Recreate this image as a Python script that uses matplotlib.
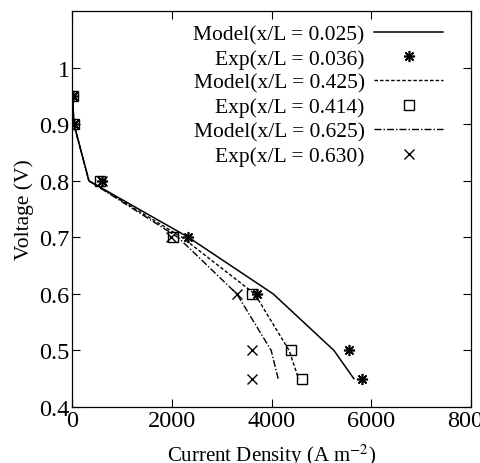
import numpy as np
import matplotlib.pyplot as plt

plt.rcParams['font.family'] = ['Liberation Serif', 'DejaVu Serif']
plt.rcParams['mathtext.fontset'] = 'stix'

# Model curves (current density in A m^-2, voltage in V)
model_025_x = [0, 30, 330, 2330, 4030, 5250, 5650]
model_025_v = [0.95, 0.9, 0.8, 0.7, 0.6, 0.5, 0.45]
model_425_x = [0, 30, 330, 2200, 3660, 4350, 4540]
model_425_v = [0.95, 0.9, 0.8, 0.7, 0.6, 0.5, 0.45]
model_625_x = [0, 30, 330, 2120, 3300, 3990, 4130]
model_625_v = [0.95, 0.9, 0.8, 0.7, 0.6, 0.5, 0.45]

# Experimental points
exp_036_x = [20, 30, 600, 2310, 3700, 5550, 5820]
exp_036_v = [0.95, 0.9, 0.8, 0.7, 0.6, 0.5, 0.45]
exp_414_x = [20, 30, 560, 2020, 3600, 4380, 4600]
exp_414_v = [0.95, 0.9, 0.8, 0.7, 0.6, 0.5, 0.45]
exp_630_x = [20, 30, 590, 1970, 3300, 3610, 3610]
exp_630_v = [0.95, 0.9, 0.8, 0.7, 0.6, 0.5, 0.45]

fig = plt.figure(figsize=(4.81, 4.64), dpi=100)
ax = fig.add_axes([0.1507, 0.1207, 0.8283, 0.853])

ax.plot(model_025_x, model_025_v, color='k', lw=1.1, label='Model(x/L = 0.025)')
ax.plot(exp_036_x, exp_036_v, ls='none', marker=(8, 2, 0), ms=8, mec='k',
        mew=1.2, label='Exp(x/L = 0.036)')
ax.plot(model_425_x, model_425_v, color='k', lw=1.0, ls=(0, (2.5, 1.5)),
        label='Model(x/L = 0.425)')
ax.plot(exp_414_x, exp_414_v, ls='none', marker='s', ms=7, mfc='none', mec='k',
        mew=1.0, label='Exp(x/L = 0.414)')
ax.plot(model_625_x, model_625_v, color='k', lw=1.0, ls=(0, (5, 1.5, 1, 1.5)),
        label='Model(x/L = 0.625)')
ax.plot(exp_630_x, exp_630_v, ls='none', marker='x', ms=7, mec='k',
        mew=1.0, label='Exp(x/L = 0.630)')

ax.set_xlim(0, 8000)
ax.set_ylim(0.4, 1.1)
ax.set_xticks([0, 2000, 4000, 6000, 8000])
ax.set_xticklabels(['0', '2000', '4000', '6000', '8000'])
ax.set_yticks([0.4, 0.5, 0.6, 0.7, 0.8, 0.9, 1.0])
ax.set_yticklabels(['0.4', '0.5', '0.6', '0.7', '0.8', '0.9', '1'])
ax.tick_params(direction='in', top=True, right=True, length=6, width=0.8,
               labelsize=17.5, pad=2)
for s in ax.spines.values():
    s.set_linewidth(0.9)

ax.set_xlabel(r'Current Density (A m$^{-2}$)', fontsize=15, labelpad=8)
ax.set_ylabel('Voltage (V)', fontsize=15.5, labelpad=4)

leg = ax.legend(loc='upper right', bbox_to_anchor=(0.963, 1.0), frameon=False,
                markerfirst=False, fontsize=15.5, handlelength=3.2,
                labelspacing=0.2, handletextpad=0.45, borderaxespad=0.2)

plt.savefig('out.png', dpi=100)
